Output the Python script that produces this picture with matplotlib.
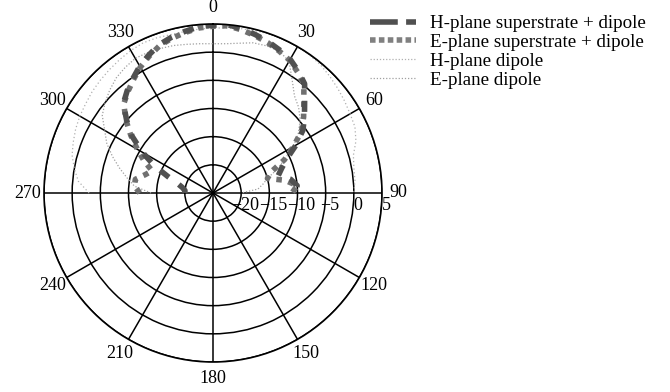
import numpy as np
import matplotlib.pyplot as plt
from matplotlib.lines import Line2D
from matplotlib.transforms import offset_copy

plt.rcParams['font.family'] = ['Liberation Serif', 'DejaVu Serif']

# angulos en grados (-90 .. 90, paso 5)
angulos = list(range(-90, 95, 5))

# patrones en dB
h_super = [-20, -20, -19.5, -18.5, -16.5, -13.5, -10.5, -7.5, -5, -2.5,
           -1.3, -0.2, 1, 2, 3, 3.6, 4.1, 4.6, 4.8, 5, 4.6, 4.1, 3.6, 3,
           2.4, 1.4, 0.3, -2, -3.8, -5.5, -8, -10.5, -12, -13, -11, -10, -10.5]
e_super = [-12, -11, -11, -12.5, -13.5, -11.5, -9.5, -7.2, -4.8, -2.6,
           -1.5, -0.4, 0.8, 1.8, 2.8, 3.4, 3.9, 4.4, 4.6, 4.8, 4.4, 3.9, 3.4, 2.8,
           2.2, 1.2, 0.1, -2.2, -4, -5.8, -8.5, -11, -14, -15, -12, -10, -11]
h_dipolo = [-3, -1, 0, 0.9, 1.4, 1.9, 2.3, 2.6, 3, 3.3, 3.6, 3.9, 4.2, 4.4,
            4.3, 4.1, 4.1, 4.2, 4.3, 4.4, 4.6, 4.8, 5, 5.1, 5, 4.9, 4.7, 4.3,
            3.9, 3.5, 3.1, 2.8, 2, 0.8, 0.4, 0.3, 0]
e_dipolo = [-14, -11, -9.5, -7.8, -6, -4.2, -2.8, -1, 0, 0.9, 1.7, 2.2, 2.6,
            2.5, 2.3, 2.1, 1.8, 1.6, 1.5, 1.6, 2, 2.6, 2.8, 2.8, 2, -0.5, -2.5,
            -3.5, -4.8, -6.5, -8.5, -11, -13, -15, -16, -17, -20]

etiquetas = ["H-plane superstrate + dipole", "E-plane superstrate + dipole",
             "H-plane dipole", "E-plane dipole"]

r_ticks = [-20, -15, -10, -5, 0, 5]

th = np.radians(angulos)

fig = plt.figure(figsize=(6.7, 3.92), dpi=100)
ax = fig.add_axes([44 / 670, 30 / 392, 338 / 670, 338 / 392], projection='polar')
ax.set_theta_zero_location('N')
ax.set_theta_direction(-1)
ax.set_rlim(-25, 5)

# curvas
ax.plot(th, h_dipolo, color='#b0b0b0', lw=0.9, ls=(0, (1, 2)))
ax.plot(th, e_dipolo, color='#a0a0a0', lw=0.9, ls=(0, (1, 1.5)))
ax.plot(th, e_super, color='#707070', lw=4, ls=(0, (1, 1.2)))
ax.plot(th, h_super, color='#505050', lw=4, ls=(0, (2, 2.2)))

# rejilla
ax.set_thetagrids(range(0, 360, 30), [str(a) for a in range(0, 360, 30)], fontsize=13)
ax.tick_params(axis='x', pad=1.5)
ax.set_rticks(r_ticks)
ax.set_yticklabels([])
ax.grid(True, color='black', lw=1.1)
ax.spines['polar'].set_linewidth(1.2)

# etiquetas radiales bajo el eje de 90
tr = offset_copy(ax.transData, fig=fig, x=3, y=-3, units='points')
for r in r_ticks:
    txt = str(r).replace('-', '\u2212')
    ax.text(np.pi / 2, r, txt, transform=tr, ha='center', va='top', fontsize=13)

# leyenda
manijas = [
    Line2D([], [], color='#505050', lw=4, ls=(0, (5, 1.5))),
    Line2D([], [], color='#808080', lw=4, ls=(0, (1, 0.6))),
    Line2D([], [], color='#b0b0b0', lw=0.9, ls=(0, (1, 1.5))),
    Line2D([], [], color='#a0a0a0', lw=0.9, ls=(0, (1, 1.5))),
]
fig.legend(manijas, etiquetas, loc='upper left', bbox_to_anchor=(370 / 670, 0.962),
           frameon=False, fontsize=13.7, handlelength=2.4, handletextpad=0.75,
           labelspacing=0.08, borderpad=0, borderaxespad=0)

fig.savefig('out.png', dpi=100)
